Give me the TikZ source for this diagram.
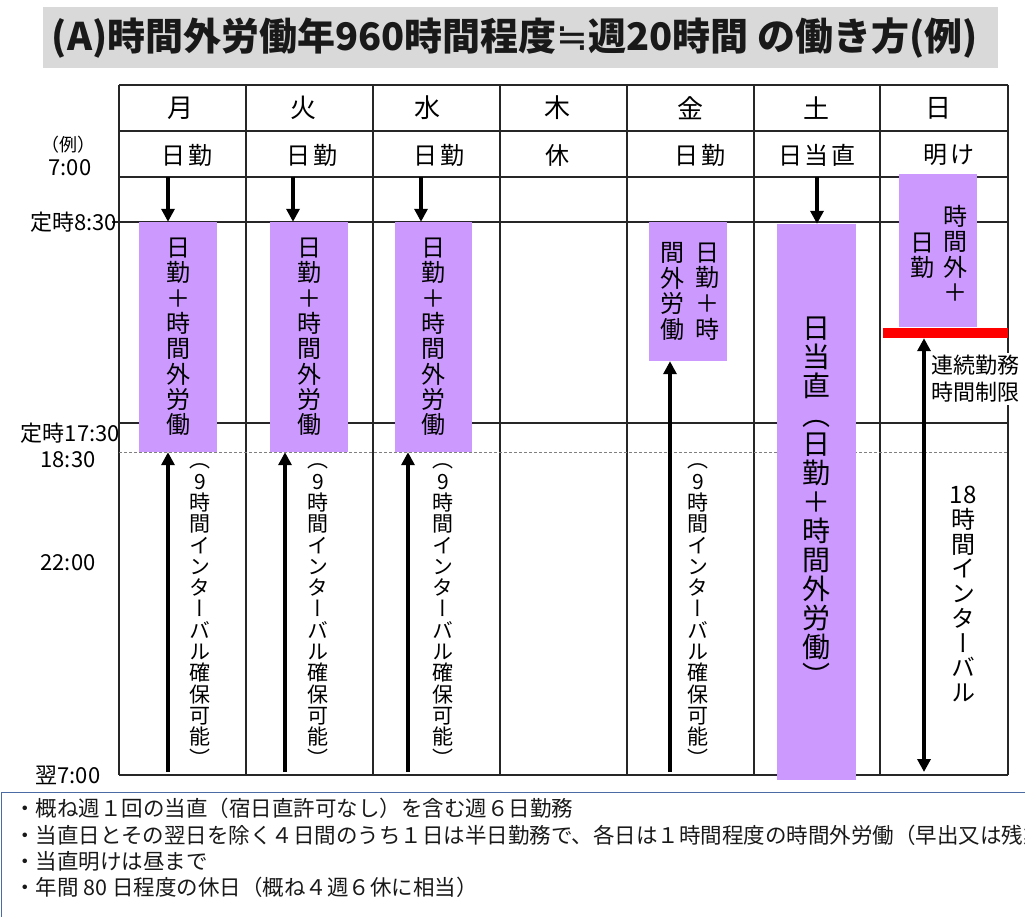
\documentclass[tikz,border=0pt]{standalone}
\usepackage{fontspec}
\newfontfamily\jp{Noto Sans CJK JP}
\newfontfamily\jpv[RawFeature=+vert]{Noto Sans CJK JP}
\newfontfamily\symf[BoldFont={DejaVu Sans}]{DejaVu Sans}
\usetikzlibrary{arrows.meta}
\definecolor{kinmu}{HTML}{CC99FF}
\definecolor{bandgray}{HTML}{D9D9D9}
\definecolor{noteblue}{HTML}{4A6BA3}
\newcommand\nikkin{日\\勤\\＋\\時\\間\\外\\労\\働}
\newcommand\kyuuji{（\\9\\時\\間\\イ\\ン\\タ\\ー\\バ\\ル\\確\\保\\可\\能\\）}
\tikzset{%
  tline/.style={line width=1.4pt, black!85},
  arr/.style={line width=3.4pt, -{Triangle[length=13pt, width=13pt]}},
  darr/.style={line width=3.4pt, {Triangle[length=13pt, width=13pt]}-{Triangle[length=13pt, width=13pt]}},
  kbox/.style={fill=kinmu, inner sep=0pt},
  hd/.style={font={\jp\fontsize{26}{30}\selectfont}, inner sep=0pt},
  hdsp/.style={font={\jp\fontsize{24}{28}\selectfont\addfontfeature{LetterSpace=12}}, inner sep=0pt},
  tl/.style={font={\jp\fontsize{22}{26}\selectfont}, inner sep=0pt},
  tate/.style 2 args={font={\jpv\fontsize{#1}{#2}\selectfont}, align=center, inner sep=0pt},
  note/.style={font={\jp\fontsize{21.5}{25}\selectfont}, anchor=west, inner sep=0pt, text=black!90},
}

\begin{document}
\begin{tikzpicture}[x=1pt, y=-1pt]
    \useasboundingbox (0,0) rectangle (1025,917);

    %title band
    \fill[bandgray] (43,7) rectangle (998,68);
    \node[font={\jp\bfseries\fontsize{38}{42}\selectfont}, text=black!90] (title) at (515,38)
        {(A)時間外労働年960時間程度{\symf ≒}週20時間 の働き方(例)};

    %table lines
    \foreach \x in {119,246,373,500,627,754,880,1008}
        \draw[tline] (\x,85) -- (\x,775);
    \foreach \y in {85,131,177,423,775}
        \draw[tline] (119,\y) -- (1008,\y);
    \draw[tline] (112,222) -- (1008,222);
    \draw[gray, line width=0.6pt, dash pattern=on 3pt off 2pt] (119,452) -- (1008,452);

    %days and shifts
    \foreach \x/\d in {180/月, 303/火, 427/水, 557/木, 690/金, 816/土, 938/日}
        \node[hd] at (\x,108) {\d};
    \foreach \x/\s in {187/日勤, 312/日勤, 439/日勤, 557/休, 700/日勤, 817/日当直, 949/明け}
        \node[hdsp] at (\x,155) {\s};

    %time labels
    \node[font={\jp\fontsize{18}{20}\selectfont}, inner sep=0pt] (ex) at (68,145) {（例）};
    \node[tl] (t700) at (70,168) {7:00};
    \node[tl, anchor=east] (t830) at (117,222) {定時8:30};
    \node[tl, anchor=east] (t1730) at (120,433) {定時17:30};
    \node[tl] (t1830) at (68,460) {18:30};
    \node[tl] (t2200) at (68,563) {22:00};
    \node[tl] (tnext) at (68,775) {翌7:00};

    %work blocks
    \node[kbox, tate={24}{25.3}, minimum width=78pt, minimum height=230pt] (mon) at (178,337) {\nikkin};
    \node[kbox, tate={24}{25.3}, minimum width=78pt, minimum height=230pt] (tue) at (309,337) {\nikkin};
    \node[kbox, tate={24}{25.3}, minimum width=77pt, minimum height=230pt] (wed) at (433.5,337) {\nikkin};
    \node[kbox, minimum width=78pt, minimum height=139pt] (fri) at (688,291.5) {};
    \node[tate={24}{25.7}] (friR) at (707,291.5) {日\\勤\\＋\\時};
    \node[tate={24}{25.7}] (friL) at (672,291.5) {間\\外\\労\\働};
    \node[kbox, tate={28}{29}, minimum width=79pt, minimum height=556pt] (sat) at (816.5,502)
        {日\\当\\直\\（\\日\\勤\\＋\\時\\間\\外\\労\\働\\）};
    \node[kbox, minimum width=78pt, minimum height=153pt] (sun) at (938,250.5) {};
    \node[tate={24}{25.5}] (sunR) at (955,253.5) {時\\間\\外\\＋};
    \node[tate={24}{25.5}] (sunL) at (922,255.5) {日\\勤};

    %interval texts
    \foreach \x in {200,318,443,698}
        \node[tate={21}{21.3}] at (\x,615) {\kyuuji};
    \node[tate={24}{24.75}] (long) at (963,594) {18\\時\\間\\イ\\ン\\タ\\ー\\バ\\ル};

    %limit bar and its label
    \node[fill=white, inner sep=2pt, anchor=west, align=left,
          font={\jp\fontsize{22}{27}\selectfont}] (limitT) at (929,379) {連続勤務\\時間制限};
    \node[fill=red, inner sep=0pt, minimum width=125pt, minimum height=10pt] (limit) at (945.5,333) {};

    %arrows into the blocks
    \coordinate (dMon) at (168,177);
    \coordinate (dTue) at (293,177);
    \coordinate (dWed) at (421,177);
    \coordinate (dSat) at (817,177);
    \coordinate (uMon) at (168,772);
    \coordinate (uTue) at (285,772);
    \coordinate (uWed) at (408,772);
    \coordinate (uFri) at (670,772);
    \coordinate (uSun) at (924,772);
    \draw[arr] (dMon) -- (dMon |- mon.north);
    \draw[arr] (dTue) -- (dTue |- tue.north);
    \draw[arr] (dWed) -- (dWed |- wed.north);
    \draw[arr] (dSat) -- (dSat |- sat.north);
    \draw[arr] (uMon) -- (uMon |- mon.south);
    \draw[arr] (uTue) -- (uTue |- tue.south);
    \draw[arr] (uWed) -- (uWed |- wed.south);
    \draw[arr] (uFri) -- (uFri |- fri.south);
    \draw[darr] (uSun |- limit.south) -- (uSun);

    %notes
    \draw[noteblue, line width=1pt] (1025,792) -- (1.5,792) -- (1.5,917);
    \node[note] (n1) at (14,808) {・概ね週１回の当直（宿日直許可なし）を含む週６日勤務};
    \node[note] (n2) at (14,835) {・当直日とその翌日を除く４日間のうち１日は半日勤務で、各日は１時間程度の時間外労働（早出又は残業）};
    \node[note] (n3) at (14,861) {・当直明けは昼まで};
    \node[note] (n4) at (14,887) {・年間 80 日程度の休日（概ね４週６休に相当）};
\end{tikzpicture}
\end{document}
